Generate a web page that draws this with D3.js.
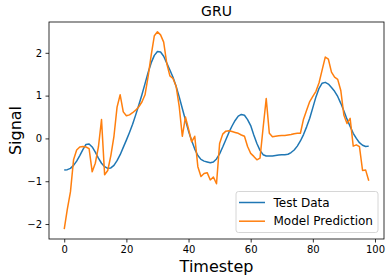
<html>
<script src="https://d3js.org/d3.v7.min.js"></script>
<style>
body{margin:0;background:#fff;}
svg{font-family:"DejaVu Sans",sans-serif;}
</style>
<div id="chart"></div>
<script>
// values, one per timestep 0..98
const testData = [
  -0.74,-0.73,-0.70,-0.63,-0.53,-0.40,-0.26,-0.14,-0.13,-0.20,
  -0.32,-0.46,-0.58,-0.66,-0.70,-0.69,-0.63,-0.52,-0.38,-0.21,
  -0.04,0.14,0.33,0.55,0.78,1.02,1.28,1.54,1.77,1.94,
  2.03,2.02,1.92,1.76,1.60,1.43,1.22,0.97,0.70,0.43,
  0.17,-0.05,-0.25,-0.40,-0.49,-0.53,-0.55,-0.57,-0.55,-0.48,
  -0.36,-0.20,-0.03,0.14,0.29,0.42,0.52,0.56,0.54,0.44,
  0.30,0.08,-0.12,-0.28,-0.38,-0.41,-0.41,-0.41,-0.40,-0.39,
  -0.38,-0.38,-0.37,-0.33,-0.27,-0.18,-0.06,0.09,0.27,0.47,
  0.72,0.97,1.17,1.29,1.31,1.27,1.19,1.10,0.98,0.82,
  0.64,0.45,0.28,0.12,0.00,-0.10,-0.16,-0.19,-0.18
];
const prediction = [
  -2.12,-1.65,-1.25,-0.50,-0.27,-0.20,-0.19,-0.20,-0.24,-0.78,
  -0.58,-0.20,0.44,-0.85,-0.75,-0.40,0.05,0.73,1.02,0.62,
  0.53,0.55,0.60,0.66,0.74,0.85,1.02,1.45,1.95,2.40,
  2.49,2.42,2.25,1.75,1.46,1.40,1.22,0.75,0.05,0.50,
  0.22,-0.08,0.05,-0.66,-0.89,-0.82,-0.80,-0.97,-0.90,-1.06,
  -0.12,0.10,0.17,0.18,0.16,0.14,0.12,0.08,0.05,-0.19,
  -0.35,-0.42,-0.50,-0.46,0.25,0.93,0.12,0.04,0.05,0.06,
  0.07,0.07,0.08,0.09,0.11,0.12,0.12,0.45,0.66,0.86,
  0.98,1.10,1.30,1.60,1.90,1.85,1.55,1.43,1.38,1.12,
  0.54,0.35,0.47,-0.18,-0.15,-0.19,-0.75,-0.74,-0.99
];
const xTicks = [0,20,40,60,80,100];
const yTicks = [-2,-1,0,1,2];
const seriesNames = ['Test Data','Model Prediction'];
const colors = ['#1f77b4','#ff7f0e'];

const width = 390, height = 279;
const margin = {top:22, left:49, bottom:40, right:6};
const plotW = width - margin.left - margin.right;
const plotH = height - margin.top - margin.bottom;

const x = d3.scaleLinear().domain([-4.9, 102.9]).range([0, plotW]);
const y = d3.scaleLinear().domain([-2.35, 2.72]).range([plotH, 0]);

const svg = d3.select('#chart').append('svg')
  .attr('width', width).attr('height', height);

const g = svg.append('g')
  .attr('transform', `translate(${margin.left},${margin.top})`);

const line = d3.line()
  .x((d,i)=>x(i))
  .y(d=>y(d));

[testData, prediction].forEach((s,k)=>{
  g.append('path')
    .attr('d', line(s))
    .attr('fill','none')
    .attr('stroke', colors[k])
    .attr('stroke-width',1.5)
    .attr('stroke-linejoin','round');
});

const xAxis = g.append('g')
  .attr('transform', `translate(0,${plotH})`)
  .call(d3.axisBottom(x).tickValues(xTicks).tickSize(3.5).tickPadding(3.5));
const yAxis = g.append('g')
  .call(d3.axisLeft(y).tickValues(yTicks).tickSize(3.5).tickPadding(3.5)
    .tickFormat(d=>d<0 ? '\u2212'+Math.abs(d) : d));
[xAxis,yAxis].forEach(a=>{
  a.select('.domain').remove();
  a.selectAll('line').attr('stroke','#000').attr('stroke-width',0.8);
  a.selectAll('text').attr('font-size',10).attr('fill','#000')
    .attr('font-family','"DejaVu Sans",sans-serif');
});

g.append('rect')
  .attr('width', plotW).attr('height', plotH)
  .attr('fill','none').attr('stroke','#000').attr('stroke-width',0.8);

// legend
const lg = g.append('g').attr('transform', `translate(${plotW-148},${plotH-47.5})`);
lg.append('rect')
  .attr('width',142).attr('height',41).attr('rx',2.5)
  .attr('fill','#fff').attr('fill-opacity',0.8)
  .attr('stroke','#ccc').attr('stroke-width',0.8);
seriesNames.forEach((n,k)=>{
  const yy = 11 + k*18.7;
  lg.append('line').attr('x1',3).attr('x2',29).attr('y1',yy).attr('y2',yy)
    .attr('stroke',colors[k]).attr('stroke-width',1.5);
  lg.append('text').attr('x',37.5).attr('y',yy).attr('dy','0.35em')
    .attr('font-size',12).text(n);
});

svg.append('text')
  .attr('x', margin.left + plotW/2).attr('y', 16)
  .attr('text-anchor','middle').attr('font-size',14).text('GRU');
svg.append('text')
  .attr('x', margin.left + plotW/2).attr('y', 272)
  .attr('text-anchor','middle').attr('font-size',16).text('Timestep');
svg.append('text')
  .attr('transform', `translate(21,${margin.top + plotH/2}) rotate(-90)`)
  .attr('text-anchor','middle').attr('font-size',16).text('Signal');
</script>
</html>
